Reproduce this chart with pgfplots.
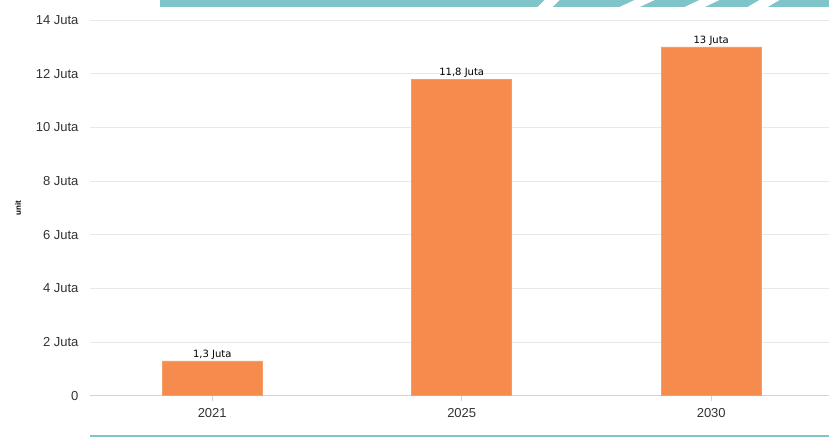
\documentclass[border=0pt]{standalone}
\usepackage{fontspec}
\setmainfont{Liberation Sans}
\newfontfamily\dejavu{DejaVu Sans}
\usepackage{pgfplots}
\pgfplotsset{compat=1.18}
\definecolor{barc}{HTML}{F58B4C}
\definecolor{gridc}{HTML}{E8E8E8}
\definecolor{axc}{HTML}{D4D4D4}
\definecolor{tealc}{HTML}{7FC4C9}
\begin{document}
\begin{tikzpicture}[x=1pt,y=1pt]
\path[fill=white] (0,0) rectangle (829,437);
\fill[tealc] (160,430) rectangle (829,437);
\fill[white] (545,437) -- (560,437) -- (553,430) -- (538,430) -- cycle;
\fill[white] (635,437) -- (655,437) -- (640,430) -- (620,430) -- cycle;
\fill[white] (700,437) -- (720,437) -- (705,430) -- (685,430) -- cycle;
\fill[white] (760,437) -- (780,437) -- (768,430) -- (748,430) -- cycle;
\fill[tealc] (90,0) rectangle (829,1.5);
\begin{axis}[
  at={(90pt,41pt)}, anchor=south west,
  scale only axis, width=739pt, height=376pt,
  ybar, bar width=100pt,
  xmin=-0.49, xmax=2.47, ymin=0, ymax=14,
  xtick={0,1,2}, xticklabels={2021,2025,2030},
  ytick={0,2,4,6,8,10,12,14},
  yticklabels={0,2 Juta,4 Juta,6 Juta,8 Juta,10 Juta,12 Juta,14 Juta},
  axis x line*=bottom, axis y line*=left,
  y axis line style={draw=none},
  x axis line style={draw=axc, line width=1pt},
  ymajorgrids, grid style={draw=gridc, line width=0.8pt},
  ytick style={draw=none},
  xtick style={draw=axc, line width=0.8pt},
  tick align=outside, major tick length=5pt,
  ticklabel style={font=\fontsize{13}{15}\selectfont, text=black!80},
  yticklabel style={xshift=-3pt},
  xticklabel style={yshift=-4pt},
  ylabel={unit},
  ylabel style={font=\bfseries\fontsize{8}{10}\selectfont, at={(axis description cs:-0.0974,0.5)}, anchor=center},
  point meta=explicit symbolic,
  nodes near coords,
  nodes near coords style={font=\dejavu\fontsize{10}{12}\selectfont, anchor=south, inner sep=0.8pt, text=black},
  clip=false,
]
\addplot[fill=barc, draw=barc!85!white, line width=0.6pt] coordinates {
  (0,1.3) [1,3 Juta]
  (1,11.8) [11,8 Juta]
  (2,13) [13 Juta]
};
\end{axis}
\end{tikzpicture}
\end{document}
